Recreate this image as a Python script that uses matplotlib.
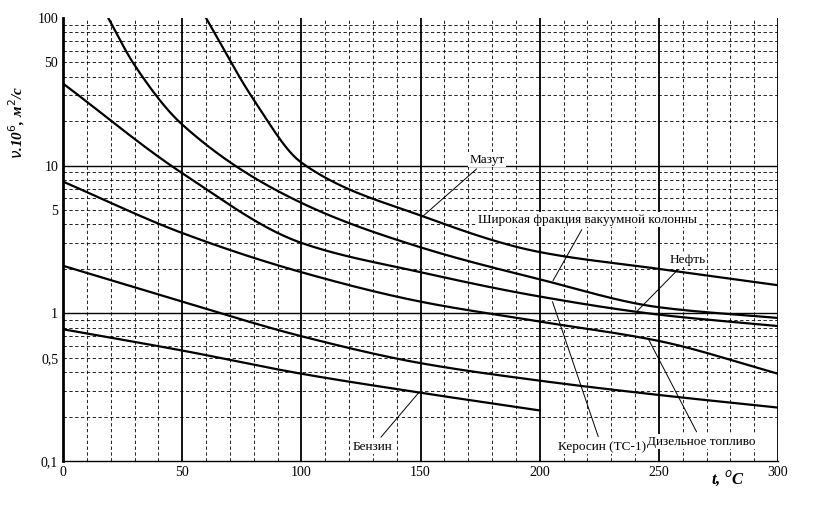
import matplotlib
matplotlib.use("Agg")
import matplotlib.pyplot as plt
import numpy as np
from matplotlib.ticker import FixedLocator, NullFormatter

t = [0, 50, 100, 150, 200, 250, 300]
mazut_t = [60, 80, 100, 150, 200, 250, 300]
mazut = [100, 28, 10.5, 4.6, 2.6, 2.0, 1.55]
shirokaya_t = [19, 30, 50, 100, 150, 200, 250, 300]
shirokaya = [100, 48, 19, 5.6, 2.8, 1.7, 1.1, 0.93]
neft = [36, 8.9, 3.0, 1.9, 1.3, 0.98, 0.82]
dizel = [7.8, 3.5, 1.9, 1.2, 0.88, 0.65, 0.39]
kerosin = [2.1, 1.2, 0.70, 0.46, 0.35, 0.28, 0.23]
benzin_t = [0, 50, 100, 150, 200]
benzin = [0.78, 0.56, 0.39, 0.29, 0.22]

def pchip(xs, ys, xx):
    x = np.asarray(xs, float); y = np.asarray(ys, float)
    h = np.diff(x); d = np.diff(y) / h
    n = len(x); m = np.zeros(n)
    for k in range(1, n - 1):
        if d[k-1] * d[k] > 0:
            w1 = 2*h[k] + h[k-1]; w2 = h[k] + 2*h[k-1]
            m[k] = (w1 + w2) / (w1/d[k-1] + w2/d[k])
    m[0] = d[0]; m[-1] = d[-1]
    out = np.empty_like(xx)
    for i, xv in enumerate(xx):
        k = min(np.searchsorted(x, xv, side="right") - 1, n - 2)
        s = (xv - x[k]) / h[k]
        h00 = 2*s**3 - 3*s**2 + 1; h10 = s**3 - 2*s**2 + s
        h01 = -2*s**3 + 3*s**2; h11 = s**3 - s**2
        out[i] = h00*y[k] + h10*h[k]*m[k] + h01*y[k+1] + h11*h[k]*m[k+1]
    return out

fig = plt.figure(figsize=(8.21, 5.11), dpi=100)
ax = fig.add_axes([63/821, 50/511, 715/821, 443/511])
ax.set_xlim(0, 300)
ax.set_yscale("log")
ax.set_ylim(0.1, 100)

for x in range(0, 301, 10):
    if x % 50 == 0:
        ax.axvline(x, color="black", lw=1.3, zorder=1)
    else:
        ax.axvline(x, color="black", lw=0.6, ls=(0, (4, 3)), zorder=1)
for dec in [0.1, 1, 10]:
    for m in range(2, 10):
        ax.axhline(dec*m, color="black", lw=0.6, ls=(0, (4, 3)), zorder=1)
for y in [1, 10]:
    ax.axhline(y, color="black", lw=1.0, zorder=1)

for xs, ys in [(mazut_t, mazut), (shirokaya_t, shirokaya), (t, neft), (t, dizel), (t, kerosin), (benzin_t, benzin)]:
    xx = np.linspace(xs[0], xs[-1], 300)
    yy = 10**pchip(xs, np.log10(ys), xx)
    ax.plot(xx, yy, color="black", lw=1.6, zorder=3)

ax.yaxis.set_major_locator(FixedLocator([0.1, 0.5, 1, 5, 10, 50, 100]))
ax.yaxis.set_minor_formatter(NullFormatter())
ax.set_yticklabels(["0,1", "0,5", "1", "5", "10", "50", "100"], family="Liberation Serif", fontsize=10)
ax.set_xticks([0, 50, 100, 150, 200, 250, 300])
ax.set_xticklabels(["0", "50", "100", "150", "200", "250", "300"], family="Liberation Serif", fontsize=10)
ax.tick_params(which="both", length=0)
for s in ["top", "right"]:
    ax.spines[s].set_visible(False)
ax.spines["left"].set_linewidth(2)
ax.spines["bottom"].set_linewidth(1)

fig.text(17/821, 0.76, r"$\nu$.10$^6$, м$^2$/с", rotation=90, family="Liberation Serif",
         fontsize=11, fontweight="bold", fontstyle="italic", ha="center", va="center")
fig.text(728/821, 1-478/511, r"t, $^o$C", family="Liberation Serif", fontsize=12,
         fontweight="bold", fontstyle="italic", ha="center", va="center")

sf = dict(family="Liberation Serif", fontsize=9.5, zorder=5,
          bbox=dict(facecolor="white", edgecolor="none", pad=1))
arrow = dict(arrowstyle="-", color="black", lw=0.7)
ax.annotate("Мазут", xy=(150, 4.4), xytext=(178, 11), ha="center", va="center", arrowprops=arrow, **sf)
ax.annotate("Широкая фракция вакуумной колонны", xy=(205, 1.6), xytext=(220, 4.3), ha="center", va="center", arrowprops=arrow, **sf)
ax.annotate("Нефть", xy=(240, 1.0), xytext=(262, 2.3), ha="center", va="center", arrowprops=arrow, **sf)
ax.annotate("Бензин", xy=(150, 0.3), xytext=(130, 0.125), ha="center", va="center", arrowprops=arrow, **sf)
ax.annotate("Керосин (ТС-1)", xy=(205, 1.25), xytext=(226, 0.125), ha="center", va="center", arrowprops=arrow, **sf)
ax.annotate("Дизельное топливо", xy=(245, 0.7), xytext=(268, 0.135), ha="center", va="center", arrowprops=arrow, **sf)

fig.savefig("out.png", dpi=100)
